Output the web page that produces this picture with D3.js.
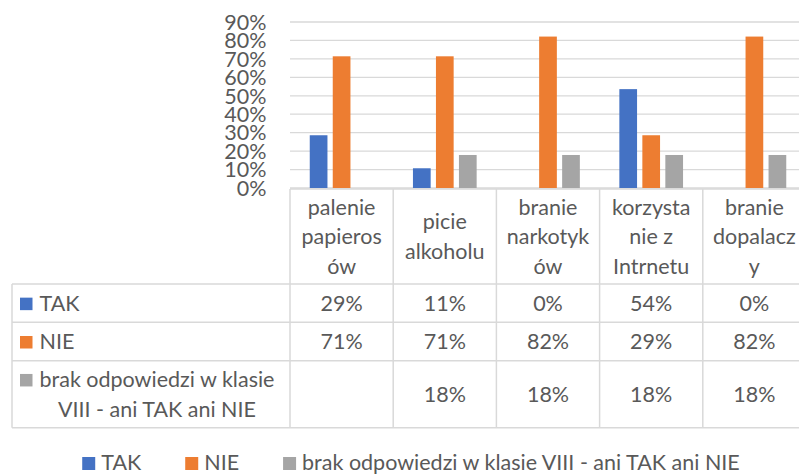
<!DOCTYPE html>
<html>
<head>
<meta charset="utf-8">
<script src="https://cdn.jsdelivr.net/npm/d3@7"></script>
<style>
  body { margin: 0; background: #fff; }
  text { font-family: Lato, "Open Sans", sans-serif; fill: #595959; font-size: 21.5px; }
</style>
</head>
<body>
<div id="chart"></div>
<script>
// categories (already wrapped the way the table shows them)
var categories = ["palenie papierosów", "picie alkoholu", "branie narkotyków", "korzystanie z Intrnetu", "branie dopalaczy"];
var categoryLines = [["palenie", "papieros", "ów"], ["picie", "alkoholu"], ["branie", "narkotyk", "ów"], ["korzysta", "nie z", "Intrnetu"], ["branie", "dopalacz", "y"]];

var series = ["TAK", "NIE", "brak odpowiedzi w klasie VIII - ani TAK ani NIE"];
var seriesLines = [["TAK"], ["NIE"], ["brak odpowiedzi w klasie", "VIII - ani TAK ani NIE"]];
var colors = ["#4472c4", "#ed7d31", "#a5a5a5"];

var tak = [0.286, 0.107, 0, 0.536, 0];
var nie = [0.714, 0.714, 0.821, 0.286, 0.821];
var brak = [null, 0.179, 0.179, 0.179, 0.179];

var yTicks = [0, 0.1, 0.2, 0.3, 0.4, 0.5, 0.6, 0.7, 0.8, 0.9];

var values = [tak, nie, brak];

var width = 799,
    height = 474;

var svg = d3.select("#chart").append("svg")
    .attr("width", width)
    .attr("height", height);

var fmt = d3.format(".0%");

var x = d3.scaleBand()
    .domain(categories)
    .range([290, 806]);

var x1 = d3.scaleBand()
    .domain(series)
    .range([x.bandwidth() / 2 - 31.85, x.bandwidth() / 2 + 31.85])
    .paddingInner(0.23);

var y = d3.scaleLinear()
    .domain([0, 0.9])
    .range([188, 22]);

// gridlines
svg.append("g")
  .selectAll("line")
  .data(yTicks)
  .join("line")
    .attr("x1", 290)
    .attr("x2", 806)
    .attr("y1", function(d) { return y(d); })
    .attr("y2", function(d) { return y(d); })
    .attr("stroke", "#d9d9d9")
    .attr("stroke-width", 1.3);

// y labels
svg.append("g")
  .selectAll("text")
  .data(yTicks)
  .join("text")
    .attr("x", 266.5)
    .attr("y", function(d) { return y(d); })
    .attr("dy", "0.36em")
    .attr("text-anchor", "end")
    .text(function(d) { return fmt(d); });

// bars
var rows = [];
series.forEach(function(s, si) {
  categories.forEach(function(c, ci) {
    var v = values[si][ci];
    if (v != null) rows.push({s: s, c: c, v: v, color: colors[si]});
  });
});

svg.append("g")
  .selectAll("rect")
  .data(rows)
  .join("rect")
    .attr("x", function(d) { return x(d.c) + x1(d.s); })
    .attr("width", x1.bandwidth())
    .attr("y", function(d) { return y(d.v); })
    .attr("height", function(d) { return y(0) - y(d.v); })
    .attr("fill", function(d) { return d.color; });

// data table
var tableTop = 189,
    rowTops = [284, 322.3, 360.7, 427.7],
    left = 12;

var grid = svg.append("g")
    .attr("stroke", "#d9d9d9")
    .attr("stroke-width", 1.5);

grid.append("line")
    .attr("x1", 290).attr("x2", 806)
    .attr("y1", tableTop).attr("y2", tableTop);

rowTops.forEach(function(ry) {
  grid.append("line")
      .attr("x1", left).attr("x2", 806)
      .attr("y1", ry).attr("y2", ry);
});

grid.append("line")
    .attr("x1", left).attr("x2", left)
    .attr("y1", rowTops[0]).attr("y2", rowTops[3]);

categories.concat([null]).forEach(function(c, i) {
  var xx = c ? x(c) : x.range()[1];
  grid.append("line")
      .attr("x1", xx).attr("x2", xx)
      .attr("y1", tableTop).attr("y2", rowTops[3]);
});

// category header text
var lineH = 29.5;
categories.forEach(function(c, i) {
  var lines = categoryLines[i],
      cy = (tableTop + rowTops[0]) / 2;
  var t = svg.append("text")
      .attr("text-anchor", "middle");
  lines.forEach(function(l, li) {
    t.append("tspan")
        .attr("x", x(c) + x.bandwidth() / 2)
        .attr("y", cy + (li - (lines.length - 1) / 2) * lineH)
        .attr("dy", "0.36em")
        .text(l);
  });
});

// series rows: legend key + name + values
series.forEach(function(s, si) {
  var top = rowTops[si], bottom = rowTops[si + 1],
      cy = (top + bottom) / 2,
      lines = seriesLines[si];

  var firstY = cy - (lines.length - 1) / 2 * lineH;

  svg.append("rect")
      .attr("x", 20)
      .attr("y", firstY + 7 - 12.5)
      .attr("width", 12.5)
      .attr("height", 12.5)
      .attr("fill", colors[si]);

  var t = svg.append("text");
  var first = t.append("tspan")
      .attr("x", 39.5)
      .attr("y", firstY)
      .attr("dy", "0.36em")
      .text(lines[0]);
  if (lines.length > 1) {
    var w0 = first.node().getComputedTextLength();
    for (var li = 1; li < lines.length; li++) {
      t.append("tspan")
          .attr("x", 39.5 + w0 / 2)
          .attr("text-anchor", "middle")
          .attr("y", firstY + li * lineH)
          .attr("dy", "0.36em")
          .text(lines[li]);
    }
  }

  categories.forEach(function(c, ci) {
    var v = values[si][ci];
    if (v == null) return;
    svg.append("text")
        .attr("x", x(c) + x.bandwidth() / 2)
        .attr("y", cy)
        .attr("dy", "0.36em")
        .attr("text-anchor", "middle")
        .text(fmt(v));
  });
});

// legend at the bottom
var legend = svg.append("g");
var items = legend.selectAll("g")
  .data(series)
  .join("g");

items.append("rect")
    .attr("width", 13)
    .attr("height", 13)
    .attr("y", -13)
    .attr("fill", function(d, i) { return colors[i]; });

items.append("text")
    .attr("x", 19)
    .text(function(d) { return d; });

var gap = 44;
var pos = 0, offsets = [];
items.each(function() {
  offsets.push(pos);
  pos += 19 + d3.select(this).select("text").node().getComputedTextLength() + gap;
});
var total = pos - gap;
items.attr("transform", function(d, i) { return "translate(" + offsets[i] + ",0)"; });
legend.attr("transform", "translate(" + (411 - total / 2) + ",470)");
</script>
</body>
</html>
